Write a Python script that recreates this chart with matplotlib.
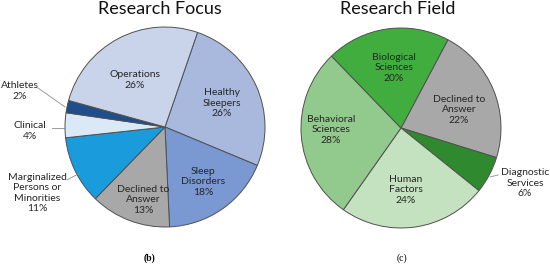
import matplotlib
matplotlib.use("Agg")
import matplotlib.pyplot as plt

# Research Focus (b), clockwise from the top-right boundary
focus_labels = ["Healthy\nSleepers", "Sleep\nDisorders", "Declined to\nAnswer",
                "Marginalized\nPersons or\nMinorities", "Clinical", "Athletes", "Operations"]
focus_pct = [26, 18, 13, 11, 4, 2, 26]
focus_colors = ["#a9b9de", "#7a98d2", "#a8a8a8", "#1a9bdc", "#dbe9f7", "#1f4e8a", "#c9d3ea"]

# Research Field (c), clockwise from the top-right boundary
field_labels = ["Declined to\nAnswer", "Diagnostic\nServices", "Human\nFactors",
                "Behavioral\nSciences", "Biological\nSciences"]
field_pct = [22, 6, 24, 28, 20]
field_colors = ["#a8a8a8", "#2f8a2f", "#c4e2bf", "#92c98c", "#41ad3f"]

plt.rcParams['font.family'] = ['Lato', 'DejaVu Sans']

fig = plt.figure(figsize=(5.5, 2.67), dpi=100)
ax = fig.add_axes([0, 0, 1, 1])

wp = dict(edgecolor="#505050", linewidth=0.7)
ax.pie(focus_pct, colors=focus_colors, startangle=71, counterclock=False,
       center=(165, -127), radius=100, wedgeprops=wp, frame=True)
ax.pie(field_pct, colors=field_colors, startangle=62, counterclock=False,
       center=(401, -128), radius=100, wedgeprops=wp, frame=True)
ax.set_xlim(0, 550)
ax.set_ylim(-267, 0)
ax.set_aspect('equal')
ax.axis('off')

# label positions (pixels)
focus_pos = [(222, 103), (203, 182), (143, 200), (37, 193), (30, 131), (20, 91), (135, 80)]
field_pos = [(459, 110), (525, 183), (406, 190), (331, 130), (394, 68)]

tc = "#262626"
for lab, p, (x, y) in zip(focus_labels, focus_pct, focus_pos):
    ax.text(x, -y, f"{lab}\n{p}%", ha='center', va='center', fontsize=7.5,
            color=tc, linespacing=1.15)
for lab, p, (x, y) in zip(field_labels, field_pct, field_pos):
    ax.text(x, -y, f"{lab}\n{p}%", ha='center', va='center', fontsize=7.5,
            color=tc, linespacing=1.15)

# leader lines
lc = "#8c8c8c"
ax.plot([38, 65], [-88, -107], color=lc, lw=0.6)
ax.plot([52, 65], [-128, -128], color=lc, lw=0.6)
ax.plot([67, 80], [-180, -173], color=lc, lw=0.6)
ax.plot([490, 498], [-177, -175], color=lc, lw=0.6)

ax.text(160, -9, "Research Focus", ha='center', va='center', fontsize=13, color="#111111")
ax.text(398, -9, "Research Field", ha='center', va='center', fontsize=13, color="#111111")
ax.text(150, -258, "(b)", ha='center', va='center', fontsize=7,
        fontweight='bold', family='Liberation Serif')
ax.text(402, -258, "(c)", ha='center', va='center', fontsize=7,
        family='Liberation Serif')

fig.savefig("out.png", dpi=100)
